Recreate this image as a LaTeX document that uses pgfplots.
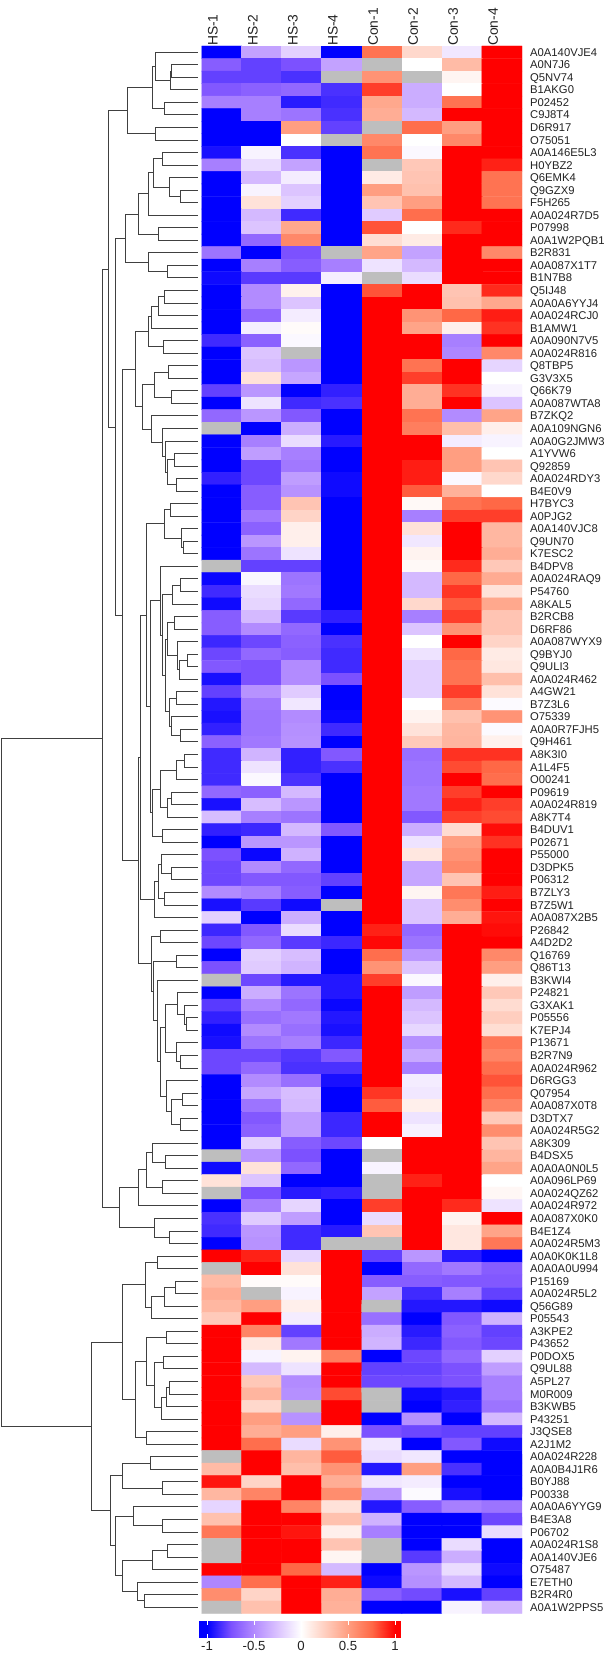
\documentclass[border=0pt]{standalone}
\usepackage{pgfplots}
\pgfplotsset{compat=1.18}
\usepackage{fontspec}
\setmainfont{Liberation Sans}
\definecolor{txt}{HTML}{222222}
\definecolor{dendro}{HTML}{404040}
% 1.1 in the matrix stands for a missing value: the top of the map is grey
\pgfplotsset{
  colormap={hm}{rgb255(0cm)=(0,0,255) rgb255(5cm)=(124,81,255) rgb255(10cm)=(178,139,255)
    rgb255(15cm)=(220,196,255) rgb255(20cm)=(255,255,255) rgb255(25cm)=(255,206,191)
    rgb255(30cm)=(255,158,129) rgb255(35cm)=(255,104,70) rgb255(40cm)=(255,0,0)
    rgb255(40.5cm)=(255,0,0) rgb255(41cm)=(190,190,190) rgb255(42cm)=(190,190,190)},
  colormap={bar}{rgb255(0cm)=(0,0,255) rgb255(5cm)=(124,81,255) rgb255(10cm)=(178,139,255)
    rgb255(15cm)=(220,196,255) rgb255(20cm)=(255,255,255) rgb255(25cm)=(255,206,191)
    rgb255(30cm)=(255,158,129) rgb255(35cm)=(255,104,70) rgb255(40cm)=(255,0,0)},
}
\begin{document}
\begin{tikzpicture}[x=1pt,y=1pt]
\path[use as bounding box] (0,0) rectangle (605,1653);

% dendrogram, x in the same units as the heatmap left edge (0..522 = 0..201.5px)
\begin{axis}[
  at={(0pt,39.5pt)}, anchor=south west,
  scale only axis, width=201.5pt, height=1567.5pt,
  xmin=0, xmax=522, ymin=0.5, ymax=125.5, y dir=reverse,
  hide axis, clip=false,
]
\addplot[dendro, line width=1pt, no marks, unbounded coords=jump, line join=miter] coordinates {
(512,2) (445,2) (445,3) (512,3) (nan,nan)
(445,2.5) (441,2.5) (441,4) (512,4) (nan,nan)
(512,1) (402,1) (402,3.25) (441,3.25) (nan,nan)
(512,5) (425,5) (425,6) (512,6) (nan,nan)
(402,2.125) (394,2.125) (394,5.5) (425,5.5) (nan,nan)
(512,7) (402,7) (402,8) (512,8) (nan,nan)
(394,3.8) (331,3.8) (331,7.5) (402,7.5) (nan,nan)
(512,9) (422,9) (422,10) (512,10) (nan,nan)
(512,12) (467,12) (467,13) (512,13) (nan,nan)
(512,11) (438,11) (438,12.5) (467,12.5) (nan,nan)
(422,9.5) (397,9.5) (397,11.75) (438,11.75) (nan,nan)
(397,10.6) (384,10.6) (384,14) (512,14) (nan,nan)
(512,15) (410,15) (410,16) (512,16) (nan,nan)
(384,12.3) (360,12.3) (360,15.5) (410,15.5) (nan,nan)
(512,18) (435,18) (435,19) (512,19) (nan,nan)
(512,17) (385,17) (385,18.5) (435,18.5) (nan,nan)
(360,13.9) (325,13.9) (325,17.75) (385,17.75) (nan,nan)
(512,20) (427,20) (427,21) (512,21) (nan,nan)
(427,20.5) (410,20.5) (410,22) (512,22) (nan,nan)
(410,21.25) (393,21.25) (393,23) (512,23) (nan,nan)
(512,24) (423,24) (423,25) (512,25) (nan,nan)
(393,22.1) (385,22.1) (385,24.5) (423,24.5) (nan,nan)
(512,26) (437,26) (437,27) (512,27) (nan,nan)
(512,28) (443,28) (443,29) (512,29) (nan,nan)
(437,26.5) (400,26.5) (400,28.5) (443,28.5) (nan,nan)
(512,33) (453,33) (453,34) (512,34) (nan,nan)
(512,35) (458,35) (458,36) (512,36) (nan,nan)
(453,33.5) (435,33.5) (435,35.5) (458,35.5) (nan,nan)
(512,32) (428,32) (428,34.5) (435,34.5) (nan,nan)
(512,31) (422,31) (422,33.25) (428,33.25) (nan,nan)
(512,30) (392,30) (392,32.1) (422,32.1) (nan,nan)
(400,27.5) (370,27.5) (370,31.05) (392,31.05) (nan,nan)
(385,23.3) (350,23.3) (350,29.27) (370,29.27) (nan,nan)
(512,37) (441,37) (441,38) (512,38) (nan,nan)
(512,40) (475,40) (475,41) (512,41) (nan,nan)
(512,39) (470,39) (470,40.5) (475,40.5) (nan,nan)
(441,37.5) (427,37.5) (427,39.75) (470,39.75) (nan,nan)
(512,43) (468,43) (468,44) (512,44) (nan,nan)
(468,43.5) (447,43.5) (447,45) (512,45) (nan,nan)
(512,46) (453,46) (453,47) (512,47) (nan,nan)
(512,49) (485,49) (485,50) (512,50) (nan,nan)
(485,49.5) (465,49.5) (465,51) (512,51) (nan,nan)
(512,48) (460,48) (460,50.25) (465,50.25) (nan,nan)
(453,46.5) (433,46.5) (433,49.1) (460,49.1) (nan,nan)
(512,52) (458,52) (458,53) (512,53) (nan,nan)
(512,55) (468,55) (468,56) (512,56) (nan,nan)
(512,54) (443,54) (443,55.5) (468,55.5) (nan,nan)
(458,52.5) (438,52.5) (438,54.75) (443,54.75) (nan,nan)
(433,47.8) (428,47.8) (428,53.6) (438,53.6) (nan,nan)
(447,44.25) (422,44.25) (422,50.7) (428,50.7) (nan,nan)
(512,42) (417,42) (417,47.5) (422,47.5) (nan,nan)
(512,57) (477,57) (477,58) (512,58) (nan,nan)
(477,57.5) (458,57.5) (458,59) (512,59) (nan,nan)
(512,60) (445,60) (445,61) (512,61) (nan,nan)
(445,60.5) (435,60.5) (435,62) (512,62) (nan,nan)
(458,58.25) (417,58.25) (417,61.25) (435,61.25) (nan,nan)
(512,63) (420,63) (420,64) (512,64) (nan,nan)
(417,59.75) (395,59.75) (395,63.5) (420,63.5) (nan,nan)
(417,44.75) (390,44.75) (390,61.6) (395,61.6) (nan,nan)
(427,38.6) (380,38.6) (380,53.2) (390,53.2) (nan,nan)
(512,66) (445,66) (445,67) (512,67) (nan,nan)
(512,65) (418,65) (418,66.5) (445,66.5) (nan,nan)
(512,68) (425,68) (425,69) (512,69) (nan,nan)
(418,65.75) (410,65.75) (410,68.5) (425,68.5) (nan,nan)
(410,67.1) (400,67.1) (400,70) (512,70) (nan,nan)
(380,45.9) (365,45.9) (365,68.55) (400,68.55) (nan,nan)
(512,71) (417,71) (417,72) (512,72) (nan,nan)
(512,73) (458,73) (458,74) (512,74) (nan,nan)
(512,78) (483,78) (483,79) (512,79) (nan,nan)
(512,77) (478,77) (478,78.5) (483,78.5) (nan,nan)
(512,76) (460,76) (460,77.75) (478,77.75) (nan,nan)
(512,81) (468,81) (468,82) (512,82) (nan,nan)
(512,80) (458,80) (458,81.5) (468,81.5) (nan,nan)
(460,76.9) (428,76.9) (428,80.75) (458,80.75) (nan,nan)
(512,84) (473,84) (473,85) (512,85) (nan,nan)
(512,86) (468,86) (468,87) (512,87) (nan,nan)
(473,84.5) (445,84.5) (445,86.5) (468,86.5) (nan,nan)
(512,83) (432,83) (432,85.5) (445,85.5) (nan,nan)
(428,78.8) (417,78.8) (417,84.25) (432,84.25) (nan,nan)
(512,75) (407,75) (407,81.5) (417,81.5) (nan,nan)
(458,73.5) (398,73.5) (398,78.25) (407,78.25) (nan,nan)
(417,71.5) (392,71.5) (392,75.9) (398,75.9) (nan,nan)
(365,57.2) (358,57.2) (358,73.7) (392,73.7) (nan,nan)
(350,26.3) (318,26.3) (318,65.45) (358,65.45) (nan,nan)
(325,15.85) (300,15.85) (300,45.9) (318,45.9) (nan,nan)
(331,5.65) (282,5.65) (282,30.9) (300,30.9) (nan,nan)
(512,89) (428,89) (428,90) (512,90) (nan,nan)
(512,88) (395,88) (395,89.5) (428,89.5) (nan,nan)
(512,91) (420,91) (420,92) (512,92) (nan,nan)
(395,88.75) (380,88.75) (380,91.5) (420,91.5) (nan,nan)
(380,90.1) (360,90.1) (360,93) (512,93) (nan,nan)
(512,95) (440,95) (440,96) (512,96) (nan,nan)
(512,94) (400,94) (400,95.5) (440,95.5) (nan,nan)
(360,91.55) (310,91.55) (310,94.75) (400,94.75) (nan,nan)
(282,18.3) (265,18.3) (265,93.15) (310,93.15) (nan,nan)
(512,97) (408,97) (408,98) (512,98) (nan,nan)
(512,99) (455,99) (455,100) (512,100) (nan,nan)
(455,99.5) (425,99.5) (425,101) (512,101) (nan,nan)
(425,100.25) (392,100.25) (392,102) (512,102) (nan,nan)
(408,97.5) (377,97.5) (377,101.1) (392,101.1) (nan,nan)
(512,103) (432,103) (432,104) (512,104) (nan,nan)
(512,105) (423,105) (423,106) (512,106) (nan,nan)
(512,107) (440,107) (440,108) (512,108) (nan,nan)
(440,107.5) (432,107.5) (432,109) (512,109) (nan,nan)
(432,108.25) (418,108.25) (418,110) (512,110) (nan,nan)
(423,105.5) (400,105.5) (400,109.1) (418,109.1) (nan,nan)
(432,103.5) (380,103.5) (380,107.3) (400,107.3) (nan,nan)
(512,111) (380,111) (380,112) (512,112) (nan,nan)
(380,105.4) (352,105.4) (352,111.5) (380,111.5) (nan,nan)
(377,99.3) (317,99.3) (317,108.45) (352,108.45) (nan,nan)
(512,113) (390,113) (390,114) (512,114) (nan,nan)
(512,115) (420,115) (420,116) (512,116) (nan,nan)
(390,113.5) (318,113.5) (318,115.5) (420,115.5) (nan,nan)
(512,118) (420,118) (420,119) (512,119) (nan,nan)
(512,117) (347,117) (347,118.5) (420,118.5) (nan,nan)
(512,120) (435,120) (435,121) (512,121) (nan,nan)
(435,120.5) (395,120.5) (395,122) (512,122) (nan,nan)
(512,124) (375,124) (375,125) (512,125) (nan,nan)
(512,123) (355,123) (355,124.5) (375,124.5) (nan,nan)
(395,121.25) (318,121.25) (318,123.75) (355,123.75) (nan,nan)
(347,117.75) (300,117.75) (300,122.5) (318,122.5) (nan,nan)
(318,114.5) (287,114.5) (287,120.1) (300,120.1) (nan,nan)
(317,103.9) (238,103.9) (238,117.3) (287,117.3) (nan,nan)
(265,55.7) (5,55.7) (5,110.6) (238,110.6)
};
\end{axis}

% heatmap, 125 rows of 8 columns
\begin{axis}[
  at={(201.5pt,39.5pt)}, anchor=south west,
  scale only axis, width=320.5pt, height=1567.5pt,
  xmin=0.5, xmax=8.5, ymin=0.5, ymax=125.5, y dir=reverse,
  axis line style={draw=none},
  major tick length=0pt,
  colormap name=hm, point meta min=-1, point meta max=1.1,
  xtick={1,...,8}, xticklabels={HS-1,HS-2,HS-3,HS-4,Con-1,Con-2,Con-3,Con-4},
  xticklabel pos=top,
  xticklabel style={rotate=90, anchor=west, inner sep=0pt, xshift=0pt, yshift=9pt,
    text height=10pt, text depth=0pt, text=txt, font=\fontsize{13.8}{14}\selectfont},
  ytick={1,...,125},
  yticklabel pos=right,
  yticklabel style={anchor=west, inner sep=0pt, xshift=8pt,
    text height=8pt, text depth=0pt, text=txt, font=\fontsize{11.26}{12}\selectfont},
  yticklabels={A0A140VJE4,A0N7J6,Q5NV74,B1AKG0,P02452,C9J8T4,D6R917,O75051,A0A146E5L3,H0YBZ2,
    Q6EMK4,Q9GZX9,F5H265,A0A024R7D5,P07998,A0A1W2PQB1,B2R831,A0A087X1T7,B1N7B8,Q5IJ48,
    A0A0A6YYJ4,A0A024RCJ0,B1AMW1,A0A090N7V5,A0A024R816,Q8TBP5,G3V3X5,Q66K79,A0A087WTA8,B7ZKQ2,
    A0A109NGN6,A0A0G2JMW3,A1YVW6,Q92859,A0A024RDY3,B4E0V9,H7BYC3,A0PJG2,A0A140VJC8,Q9UN70,
    K7ESC2,B4DPV8,A0A024RAQ9,P54760,A8KAL5,B2RCB8,D6RF86,A0A087WYX9,Q9BYJ0,Q9ULI3,
    A0A024R462,A4GW21,B7Z3L6,O75339,A0A0R7FJH5,Q9H461,A8K3I0,A1L4F5,O00241,P09619,
    A0A024R819,A8K7T4,B4DUV1,P02671,P55000,D3DPK5,P06312,B7ZLY3,B7Z5W1,A0A087X2B5,
    P26842,A4D2D2,Q16769,Q86T13,B3KWI4,P24821,G3XAK1,P05556,K7EPJ4,P13671,
    B2R7N9,A0A024R962,D6RGG3,Q07954,A0A087X0T8,D3DTX7,A0A024R5G2,A8K309,B4DSX5,A0A0A0N0L5,
    A0A096LP69,A0A024QZ62,A0A024R972,A0A087X0K0,B4E1Z4,A0A024R5M3,A0A0K0K1L8,A0A0A0U994,P15169,A0A024R5L2,
    Q56G89,P05543,A3KPE2,P43652,P0DOX5,Q9UL88,A5PL27,M0R009,B3KWB5,P43251,
    J3QSE8,A2J1M2,A0A024R228,A0A0B4J1R6,B0YJ88,P00338,A0A0A6YYG9,B4E3A8,P06702,A0A024R1S8,
    A0A140VJE6,O75487,E7ETH0,B2R4R0,A0A1W2PPS5},
]
\addplot[matrix plot*, mesh/cols=8, point meta=explicit]
  table[row sep=\\, header=false, x expr={mod(\coordindex,8)+1}, y expr={floor((\coordindex+0.5)/8)+1}, meta index=0] {
-1\\-0.4\\-0.2\\-1\\0.7\\0.2\\-0.1\\1\\
-0.7\\-0.8\\-0.75\\-0.4\\1.1\\0\\0.35\\1\\
-0.8\\-0.8\\-0.85\\1.1\\0.55\\1.1\\0.05\\1\\
-0.72\\-0.68\\-0.65\\-0.85\\0.85\\-0.35\\0\\1\\
-0.55\\-0.55\\-0.92\\-0.87\\0.45\\-0.35\\0.7\\1\\
-1\\-0.55\\-0.6\\-0.85\\0.42\\-0.3\\1\\1\\
-1\\-1\\0.5\\-0.8\\1.1\\0.72\\0.5\\1\\
-1\\-1\\0\\1.1\\0.6\\0\\0.6\\1\\
-0.95\\-0.05\\-0.85\\-1\\0.7\\-0.03\\1\\1\\
-0.55\\-0.15\\-0.4\\-1\\1.1\\0.28\\1\\0.92\\
-1\\-0.3\\-0.08\\-1\\0.1\\0.3\\1\\0.7\\
-1\\-0.05\\-0.25\\-1\\0.5\\0.32\\1\\0.7\\
-1\\0.15\\-0.2\\-1\\0.3\\0.5\\1\\0.7\\
-1\\-0.3\\-0.87\\-1\\-0.22\\0.72\\1\\1\\
-1\\-0.25\\0.45\\-1\\0.8\\0\\0.9\\1\\
-1\\-0.65\\0.6\\-1\\0.17\\0.1\\1\\1\\
-0.6\\-1\\-0.75\\1.1\\0.47\\-0.4\\1\\0.6\\
-1\\-0.55\\-0.7\\-0.55\\-0.12\\-0.3\\1\\1\\
-0.97\\-0.82\\-0.82\\-0.07\\1.1\\-0.15\\1\\1\\
-1\\-0.5\\0.07\\-1\\0.8\\1\\0.3\\0.9\\
-1\\-0.5\\-0.25\\-1\\1\\1\\0.32\\0.45\\
-1\\-0.65\\-0.08\\-1\\1\\0.55\\0.75\\0.93\\
-1\\-0.07\\0.02\\-1\\1\\0.47\\0.08\\0.88\\
-0.87\\-0.68\\-0.03\\-1\\1\\1\\-0.55\\1\\
-1\\-0.25\\1.1\\-1\\1\\1\\-0.52\\0.6\\
-1\\-0.28\\-0.45\\-1\\1\\0.7\\1\\-0.18\\
-1\\0.15\\-0.38\\-1\\1\\0.85\\1\\0\\
-0.8\\-0.45\\-1\\-0.9\\1\\0.42\\0.88\\-0.05\\
-1\\-0.12\\-0.87\\-0.85\\1\\0.42\\1\\-0.25\\
-0.65\\-0.45\\-0.72\\-1\\1\\0.7\\-0.5\\0.47\\
1.1\\-1\\-0.35\\-1\\1\\0.65\\0.33\\0.08\\
-1\\-0.55\\-0.15\\-0.92\\1\\1\\-0.08\\-0.05\\
-1\\-0.42\\-0.55\\-1\\1\\1\\0.5\\0\\
-1\\-0.78\\-0.58\\-1\\1\\0.93\\0.5\\0.3\\
-0.9\\-0.78\\-0.42\\-0.97\\1\\0.93\\-0.03\\0.2\\
-1\\-0.7\\-0.47\\-0.97\\1\\0.78\\0.4\\0\\
-1\\-0.7\\0.3\\-1\\1\\0.03\\0.7\\0.75\\
-1\\-0.58\\0.22\\-1\\1\\-0.55\\0.85\\0.85\\
-1\\-0.68\\0.08\\-1\\1\\0.15\\1\\0.37\\
-1\\-0.45\\0.08\\-1\\1\\-0.1\\1\\0.37\\
-1\\-0.6\\-0.12\\-1\\1\\0.06\\1\\0.42\\
1.1\\-0.8\\-0.8\\-1\\1\\0.03\\0.9\\0.28\\
-0.98\\-0.04\\-0.6\\-1\\1\\-0.3\\0.75\\0.43\\
-0.87\\-0.15\\-0.58\\-1\\1\\-0.3\\0.87\\0.15\\
-0.97\\-0.18\\-0.65\\-1\\1\\0.2\\0.78\\0.45\\
-0.7\\-0.3\\-0.82\\-0.9\\1\\-0.55\\0.85\\0.3\\
-0.7\\-0.5\\-0.65\\-1\\1\\-0.25\\0.55\\0.3\\
-0.88\\-0.78\\-0.68\\-0.85\\1\\0\\1\\0.22\\
-0.78\\-0.65\\-0.7\\-0.87\\1\\-0.12\\0.75\\0.1\\
-0.72\\-0.75\\-0.5\\-0.87\\1\\-0.2\\0.7\\0.12\\
-0.95\\-0.75\\-0.5\\-0.75\\1\\-0.2\\0.7\\0.33\\
-0.8\\-0.47\\-0.22\\-1\\1\\-0.2\\0.85\\0.15\\
-0.93\\-0.58\\-0.1\\-1\\1\\0\\0.65\\-0.02\\
-0.95\\-0.6\\-0.5\\-0.98\\1\\0.06\\0.32\\0.55\\
-0.9\\-0.6\\-0.48\\-0.87\\1\\0.15\\0.37\\-0.02\\
-0.68\\-0.58\\-0.47\\-1\\1\\0.27\\0.38\\0.07\\
-0.87\\-0.32\\-0.9\\-0.72\\1\\-0.62\\0.88\\0.88\\
-0.87\\-0.12\\-0.9\\-0.85\\1\\-0.6\\0.82\\0.75\\
-0.87\\-0.03\\-0.85\\-1\\1\\-0.6\\1\\0.72\\
-0.65\\-0.68\\-0.3\\-1\\1\\-0.58\\0.85\\1\\
-0.95\\-0.28\\-0.45\\-1\\1\\-0.58\\0.92\\0.85\\
-0.28\\-0.55\\-0.6\\-1\\1\\-0.72\\0.85\\0.82\\
-0.9\\-0.88\\-0.3\\-0.72\\1\\-0.35\\0.18\\0.97\\
-1\\-0.45\\-0.45\\-1\\1\\-0.12\\0.5\\0.88\\
-0.75\\-0.98\\-0.33\\-1\\1\\0.12\\0.55\\1\\
-0.78\\-0.5\\-0.65\\-1\\1\\-0.38\\0.6\\1\\
-0.78\\-0.72\\-0.72\\-0.8\\1\\-0.38\\0.3\\1\\
-0.5\\-0.55\\-0.7\\-1\\1\\0.05\\0.68\\0.93\\
-0.95\\-0.82\\-0.97\\1.1\\1\\-0.25\\0.58\\1\\
-0.2\\-1\\-0.35\\-1\\1\\-0.25\\0.42\\0.95\\
-0.88\\-0.72\\-0.15\\-1\\0.92\\-0.65\\1\\0.97\\
-0.78\\-0.65\\-0.82\\-0.88\\0.98\\-0.6\\1\\1\\
-1\\-0.2\\-0.28\\-1\\0.72\\-0.45\\1\\0.6\\
-0.75\\-0.22\\-0.32\\-1\\0.55\\-0.25\\1\\0.5\\
1.1\\-0.78\\-0.93\\-0.93\\0.85\\-0.03\\1\\0.08\\
-1\\-0.35\\-0.6\\-0.93\\1\\-0.42\\1\\0.28\\
-0.82\\-0.52\\-0.65\\-0.98\\1\\-0.3\\1\\0.18\\
-0.9\\-0.62\\-0.58\\-0.93\\1\\-0.25\\1\\0.25\\
-0.97\\-0.5\\-0.62\\-0.95\\1\\-0.17\\1\\0.17\\
-0.95\\-0.6\\-0.55\\-0.88\\1\\-0.48\\1\\0.68\\
-0.78\\-0.78\\-0.83\\-0.72\\1\\-0.37\\1\\0.62\\
-0.78\\-0.65\\-0.85\\-0.85\\1\\-0.55\\1\\0.72\\
-1\\-0.5\\-0.62\\-0.95\\1\\-0.08\\1\\0.8\\
-1\\-0.38\\-0.28\\-1\\0.87\\-0.1\\1\\0.72\\
-1\\-0.6\\-0.3\\-1\\0.78\\0.08\\1\\0.62\\
-1\\-0.72\\-0.42\\-0.88\\1\\-0.12\\1\\0.27\\
-1\\-0.68\\-0.42\\-0.88\\1\\-0.06\\1\\0.58\\
-1\\-0.2\\-0.7\\-0.78\\0\\1\\1\\0.3\\
1.1\\-0.45\\-0.75\\-1\\1.1\\1\\1\\0.38\\
-0.97\\0.15\\-0.65\\-1\\-0.05\\1\\1\\0.47\\
0.15\\-0.25\\-1\\-1\\1.1\\0.92\\1\\0\\
1.1\\-0.75\\-0.92\\-0.9\\1.1\\1\\1\\0.04\\
-1\\-0.55\\-0.18\\-1\\0.85\\1\\0.9\\-0.12\\
-0.85\\-0.22\\-0.42\\-1\\-0.15\\1\\0.06\\1\\
-0.87\\-0.45\\-0.87\\-0.92\\0.3\\1\\0.12\\0.47\\
-1\\-0.47\\-0.87\\1.1\\1.1\\1\\0.12\\0.68\\
1\\0.92\\-0.18\\1\\-0.8\\-0.45\\-0.92\\-1\\
1.1\\1\\0.15\\1\\-1\\-0.65\\-0.58\\-0.7\\
0.35\\0.02\\0.02\\1\\-0.7\\-0.7\\-0.72\\-0.72\\
0.42\\1.1\\-0.05\\1\\-0.4\\-0.87\\-0.55\\-0.8\\
0.37\\0.5\\0.08\\1\\1.1\\-0.93\\-0.93\\-0.97\\
0.27\\1\\-0.08\\1\\-0.62\\-1\\-0.72\\-0.33\\
1\\0.62\\-0.8\\1\\-0.35\\-0.92\\-0.68\\-0.8\\
1\\0.12\\-0.58\\1\\-0.32\\-0.88\\-0.72\\-0.78\\
1\\-0.05\\0.06\\0.65\\-1\\-0.78\\-0.65\\-0.2\\
1\\-0.3\\-0.12\\1\\-0.8\\-0.8\\-0.75\\-0.42\\
1\\0.28\\-0.5\\1\\-0.78\\-0.78\\-0.75\\-0.55\\
1\\0.38\\-0.48\\0.82\\1.1\\-0.97\\-0.93\\-0.55\\
1\\0.2\\1.1\\1\\1.1\\-1\\-0.9\\-0.6\\
1\\0.5\\-0.47\\1\\-1\\-0.48\\-1\\-0.3\\
1\\0.42\\0.5\\0.08\\-0.75\\-0.78\\-0.8\\-0.8\\
1\\0.72\\-0.15\\0.55\\-0.1\\-1\\-0.72\\-0.97\\
1.1\\1\\0.38\\0.78\\-0.15\\-0.1\\-1\\-1\\
0.35\\1\\0.33\\0.55\\-0.93\\0.5\\-0.85\\-1\\
0.95\\0.22\\1\\0.42\\-0.1\\-0.08\\-1\\-1\\
0.37\\0.62\\1\\0.58\\-0.45\\-0.02\\-0.95\\-1\\
-0.18\\1\\0.62\\0.15\\-0.93\\-0.7\\-0.55\\-0.6\\
0.32\\1\\1\\0.32\\-0.33\\-1\\-1\\-0.78\\
0.68\\1\\0.95\\0.08\\-0.55\\-1\\-1\\-0.15\\
1.1\\1\\1\\0.3\\1.1\\-1\\-0.15\\-1\\
1.1\\1\\1\\0.05\\1.1\\-0.82\\-0.35\\-1\\
1\\1\\0.75\\-0.3\\-1\\-0.45\\-0.15\\-0.97\\
-0.52\\0.72\\1\\0.92\\-0.97\\-0.48\\-0.3\\-1\\
0.58\\0.22\\1\\0.42\\-0.7\\-0.77\\-0.95\\-0.8\\
1.1\\0.32\\1\\0.4\\-1\\-1\\-0.05\\-0.32\\
};
\end{axis}

% colour key
\begin{axis}[
  at={(199.3pt,15.3pt)}, anchor=south west,
  scale only axis, width=201.4pt, height=17pt,
  xmin=-1.082, xmax=1.06, ymin=0, ymax=1,
  axis on top,
  axis line style={draw=none},
  colormap name=bar, point meta min=-1, point meta max=1,
  ytick=\empty,
  xtick={-1,-0.5,0,0.5,1}, xticklabels={-1,-0.5,0,0.5,1},
  tick align=inside, tickpos=both, xticklabel pos=bottom,
  major tick length=4pt,
  tick style={white, line width=0.8pt},
  xticklabel style={inner sep=0pt, yshift=-3pt, text=txt, text height=9.5pt, text depth=0pt,
    font=\fontsize{13.2}{14}\selectfont},
]
\addplot[surf, shader=interp, mesh/cols=11, point meta=explicit] table[meta=m] {
x y m
-1.082 0 -1
-1 0 -1
-0.75 0 -0.75
-0.5 0 -0.5
-0.25 0 -0.25
0 0 0
0.25 0 0.25
0.5 0 0.5
0.75 0 0.75
1 0 1
1.06 0 1
-1.082 1 -1
-1 1 -1
-0.75 1 -0.75
-0.5 1 -0.5
-0.25 1 -0.25
0 1 0
0.25 1 0.25
0.5 1 0.5
0.75 1 0.75
1 1 1
1.06 1 1
};
\end{axis}
\end{tikzpicture}
\end{document}
